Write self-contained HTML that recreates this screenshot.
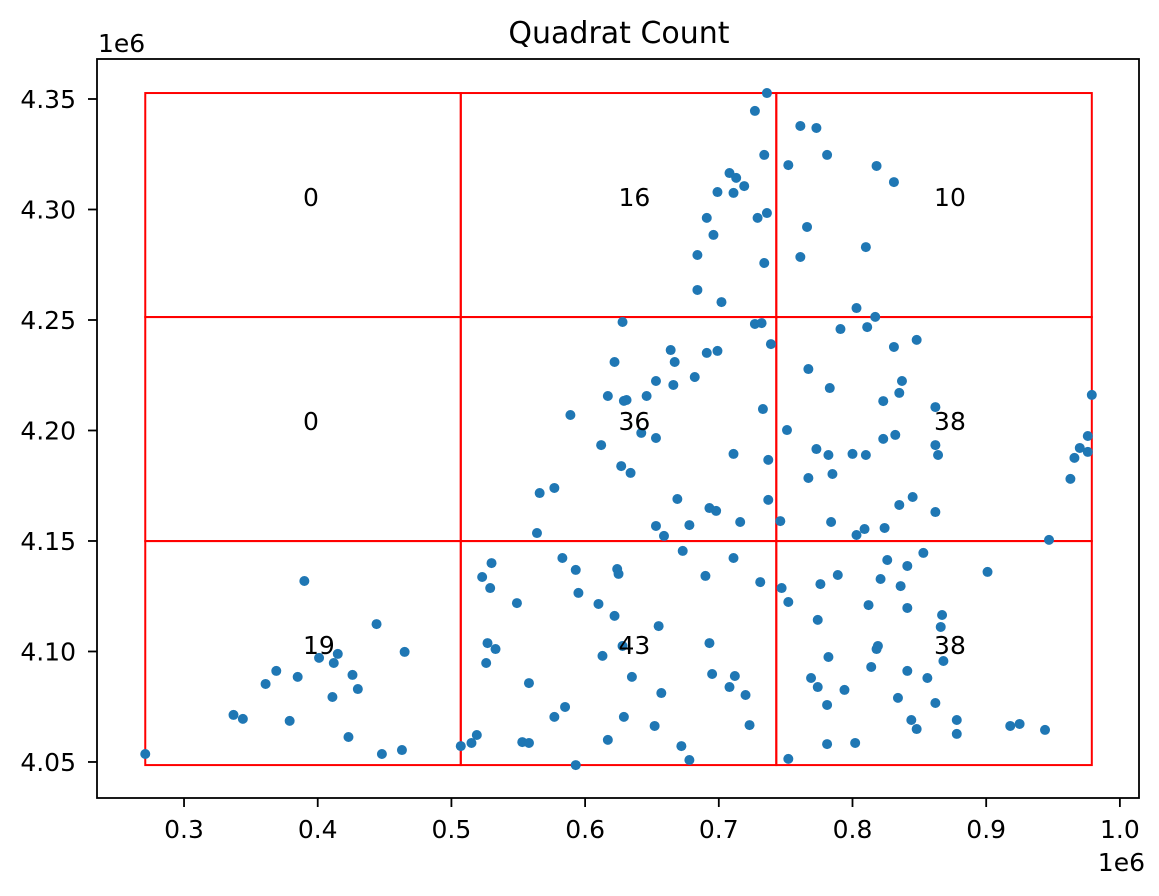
<!DOCTYPE html>
<html><head><meta charset="utf-8"><style>
html,body{margin:0;padding:0;background:#fff;}
svg{display:block;font-family:"DejaVu Sans","Liberation Sans",sans-serif;}
</style></head><body>
<svg id="chart" width="1159" height="896" viewBox="0 0 1159 896" xmlns="http://www.w3.org/2000/svg">
<rect width="1159" height="896" fill="#fff"/>
<text x="619" y="43" text-anchor="middle" font-size="30">Quadrat Count</text>
<text x="98" y="52" font-size="25">1e6</text>
<text x="1145" y="871" text-anchor="end" font-size="25">1e6</text>
<g id="grid"></g>
<g id="points"></g>
<g id="labels"></g>
<g id="xaxis"></g>
<g id="yaxis"></g>
<rect x="97" y="59" width="1042" height="739" fill="none" stroke="#000" stroke-width="1.8"/>
</svg>
<script>
// data in units of 1e6
const xs = [0.390,0.444,0.465,0.415,0.401,0.412,0.369,0.385,0.426,0.361,0.430,0.411,0.337,0.344,0.379,0.423,0.463,0.448,0.271,
0.507,0.530,0.583,0.523,0.593,0.529,0.624,0.625,0.673,0.711,0.690,0.731,0.549,0.595,0.610,0.622,0.655,0.527,0.533,0.526,0.628,0.613,0.693,0.558,0.635,0.695,0.712,0.708,0.720,0.657,0.585,0.577,0.629,0.652,0.723,0.519,0.515,0.553,0.558,0.617,0.672,0.678,0.593,
0.853,0.826,0.841,0.789,0.901,0.821,0.776,0.836,0.747,0.752,0.812,0.841,0.867,0.774,0.866,0.819,0.818,0.782,0.868,0.814,0.841,0.769,0.856,0.774,0.794,0.834,0.781,0.862,0.844,0.878,0.848,0.918,0.925,0.944,0.878,0.781,0.802,0.752,0.947,
0.628,0.727,0.732,0.664,0.691,0.699,0.739,0.622,0.667,0.653,0.666,0.682,0.617,0.631,0.629,0.646,0.589,0.733,0.642,0.653,0.612,0.711,0.737,0.627,0.634,0.566,0.577,0.669,0.737,0.693,0.698,0.716,0.564,0.653,0.678,0.659,0.746,
0.791,0.811,0.831,0.848,0.817,0.767,0.783,0.837,0.835,0.823,0.862,0.979,0.751,0.823,0.832,0.862,0.864,0.773,0.782,0.800,0.810,0.976,0.970,0.976,0.966,0.963,0.767,0.785,0.835,0.845,0.862,0.784,0.809,0.803,0.824,
0.736,0.727,0.761,0.773,0.734,0.781,0.752,0.818,0.831,0.708,0.713,0.719,0.699,0.711,0.691,0.729,0.736,0.696,0.766,0.684,0.734,0.761,0.810,0.684,0.702,0.803];
const ys = [4.1319,4.1124,4.0998,4.0989,4.0971,4.0948,4.0912,4.0885,4.0894,4.0853,4.0830,4.0794,4.0713,4.0695,4.0686,4.0613,4.0554,4.0536,4.0536,
4.0572,4.1400,4.1423,4.1337,4.1369,4.1287,4.1373,4.1351,4.1455,4.1423,4.1342,4.1314,4.1219,4.1265,4.1215,4.1161,4.1115,4.1038,4.1011,4.0948,4.1025,4.0980,4.1038,4.0857,4.0885,4.0898,4.0889,4.0839,4.0803,4.0812,4.0749,4.0704,4.0704,4.0663,4.0667,4.0622,4.0586,4.0590,4.0586,4.0600,4.0572,4.0509,4.0486,
4.1446,4.1414,4.1387,4.1346,4.1360,4.1328,4.1305,4.1296,4.1287,4.1224,4.1210,4.1197,4.1165,4.1143,4.1111,4.1025,4.1011,4.0975,4.0957,4.0930,4.0912,4.0880,4.0880,4.0839,4.0826,4.0790,4.0758,4.0767,4.0690,4.0690,4.0649,4.0663,4.0672,4.0645,4.0627,4.0581,4.0586,4.0514,4.1505,
4.2491,4.2482,4.2486,4.2364,4.2351,4.2360,4.2391,4.2310,4.2310,4.2224,4.2206,4.2242,4.2156,4.2138,4.2134,4.2156,4.2070,4.2097,4.1989,4.1966,4.1934,4.1894,4.1867,4.1839,4.1808,4.1717,4.1740,4.1690,4.1686,4.1649,4.1636,4.1586,4.1536,4.1568,4.1572,4.1523,4.1590,
4.2459,4.2468,4.2378,4.2410,4.2514,4.2278,4.2192,4.2224,4.2170,4.2133,4.2106,4.2161,4.2002,4.1962,4.1980,4.1934,4.1889,4.1916,4.1889,4.1894,4.1889,4.1975,4.1921,4.1903,4.1876,4.1781,4.1785,4.1803,4.1663,4.1699,4.1631,4.1586,4.1554,4.1527,4.1559,
4.3527,4.3446,4.3378,4.3369,4.3247,4.3247,4.3201,4.3197,4.3124,4.3165,4.3143,4.3106,4.3079,4.3075,4.2962,4.2962,4.2984,4.2885,4.2921,4.2794,4.2758,4.2785,4.2830,4.2636,4.2581,4.2554];
// quadrat counts as printed: columns left->right, rows bottom->top
const countsCol0 = [19,0,0];
const countsCol1 = [43,36,16];
const countsCol2 = [38,38,10];
const xTicks = [0.3,0.4,0.5,0.6,0.7,0.8,0.9,1.0];
const xTickLabels = ["0.3","0.4","0.5","0.6","0.7","0.8","0.9","1.0"];
const yTicks = [4.05,4.10,4.15,4.20,4.25,4.30,4.35];
const yTickLabels = ["4.05","4.10","4.15","4.20","4.25","4.30","4.35"];
const nCells = 3;

const NS = "http://www.w3.org/2000/svg";
const L=97,R=1139,T=59,B=798;
const X0=0.2349,X1=1.0143,Y0=4.0337,Y1=4.3681;
const sx = v => L + (v - X0) / (X1 - X0) * (R - L);
const sy = v => B - (v - Y0) / (Y1 - Y0) * (B - T);
function mk(tag, attrs, parent){const e=document.createElementNS(NS,tag);for(const k in attrs)e.setAttribute(k,attrs[k]);parent.appendChild(e);return e;}

const gx=document.getElementById('grid'), gp=document.getElementById('points'), gl=document.getElementById('labels');
const xmin=Math.min(...xs), xmax=Math.max(...xs), ymin=Math.min(...ys), ymax=Math.max(...ys);
const dx=(xmax-xmin)/nCells, dy=(ymax-ymin)/nCells;
const counts=[countsCol0,countsCol1,countsCol2];
for(let i=0;i<nCells;i++){for(let j=0;j<nCells;j++){
  const x0=xmin+i*dx, y0=ymin+j*dy;
  const r=mk('rect',{x:sx(x0),y:sy(y0+dy),width:sx(x0+dx)-sx(x0),height:sy(y0)-sy(y0+dy),fill:'none',stroke:'#ff0000','stroke-width':2},gx);
  
  
  const t=mk('text',{x:sx(x0+dx/2),y:sy(y0+dy/2)+1,'font-size':25},gl);
  t.textContent=counts[i][j];
  
  
}}
for(let k=0;k<xs.length;k++){
  const c=mk('circle',{cx:sx(xs[k]),cy:sy(ys[k]),r:5,fill:'#1f77b4'},gp);
  
  
}
const ax=document.getElementById('xaxis'), ay=document.getElementById('yaxis');
xTicks.forEach((v,i)=>{
  const x=sx(v);
  const l=mk('line',{x1:x,x2:x,y1:B,y2:B+9,stroke:'#000','stroke-width':1.8},ax);
  
  
  const t=mk('text',{x:x,y:B+40,'text-anchor':'middle','font-size':25},ax);
  t.textContent=xTickLabels[i];
  
  
});
yTicks.forEach((v,i)=>{
  const y=sy(v);
  const l=mk('line',{x1:L-9,x2:L,y1:y,y2:y,stroke:'#000','stroke-width':1.8},ay);
  
  
  const t=mk('text',{x:L-21,y:y+9,'text-anchor':'end','font-size':25},ay);
  t.textContent=yTickLabels[i];
  
  
});
</script>
</body></html>
